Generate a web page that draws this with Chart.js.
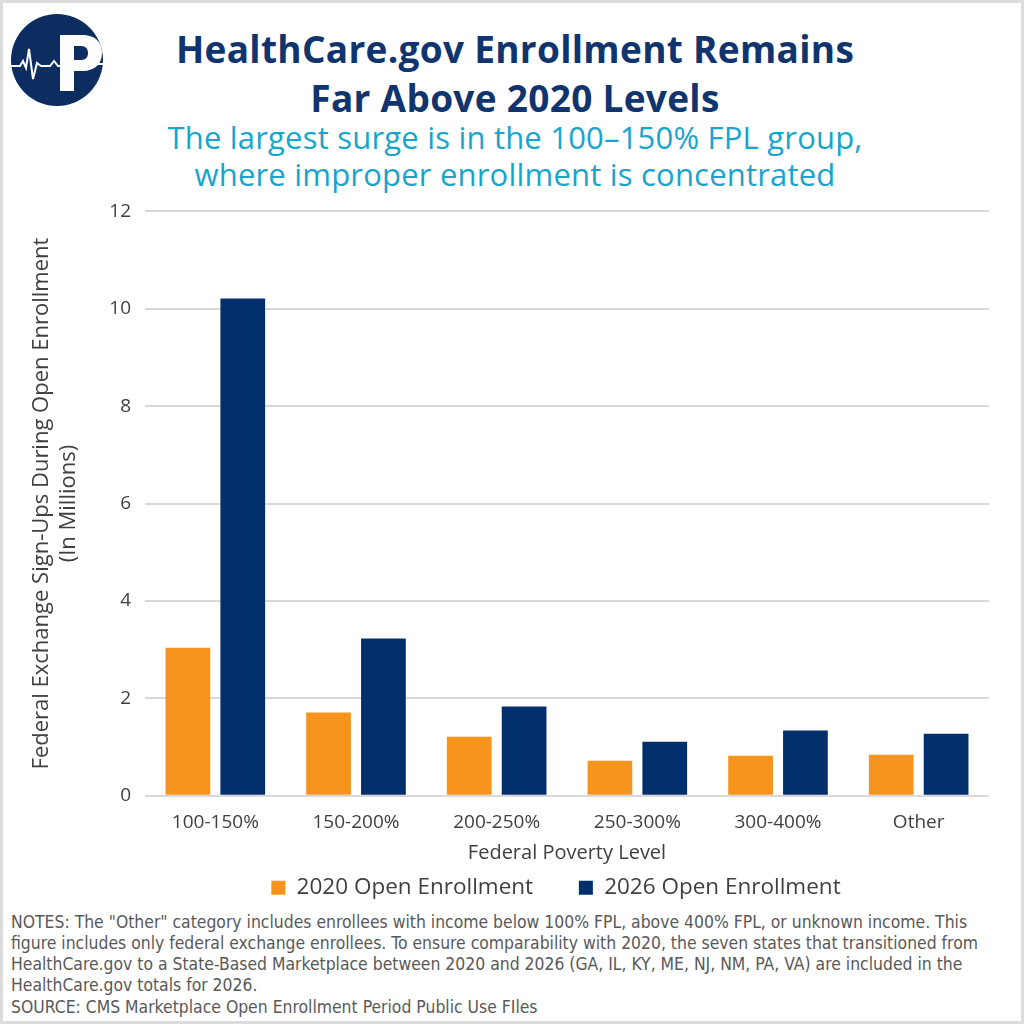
<!DOCTYPE html>
<html>
<head>
<meta charset="utf-8">
<script src="https://cdn.jsdelivr.net/npm/chart.js@4"></script>
<style>
  html, body { margin: 0; padding: 0; background: #fff; }
  #frame { position: relative; width: 1024px; height: 1024px; box-sizing: border-box; border: 3px solid #dcdcdc; background: #fff; overflow: hidden; font-family: "Open Sans", Roboto, sans-serif; }
  #logo { position: absolute; left: 5px; top: 8px; }
  .title { position: absolute; left: 0; width: 1024px; text-align: center; color: #10346e; font-weight: 700; font-size: 37px; line-height: 48px; letter-spacing: 0.3px; white-space: nowrap; }
  .sub { position: absolute; left: 0; width: 1024px; text-align: center; color: #17a5cc; font-size: 31px; line-height: 36px; letter-spacing: 0.2px; white-space: nowrap; }
  #notes { position: absolute; left: 8px; top: 909px; width: 1010px; color: #595959; font-family: "Liberation Sans Narrow", "DejaVu Sans Condensed", sans-serif; font-size: 17.4px; line-height: 21px; white-space: nowrap; }
  #chartwrap { position: absolute; left: 0; top: 183px; }
</style>
</head>
<body>
<div id="frame">
  <svg id="logo" width="100" height="100" viewBox="0 0 100 100">
    <circle cx="49" cy="49" r="46" fill="#0d2c5f"/>
    <path d="M52 24 H74 C90 24 94 34 94 42 C94 52 88 60 74 60 H66 V80 H52 Z M66 35 V49 H73 C78 49 80 46 80 42 C80 38 78 35 73 35 Z" fill="#fff" fill-rule="evenodd"/>
    <polyline points="3,55 12,55 15,50 18,57 21,38 25,68 29,52 33,55 42,55 46,50 50,55 54,55 58,53 96,53" fill="none" stroke="#fff" stroke-width="2"/>
  </svg>
  <div class="title" style="top:22px;">HealthCare.gov Enrollment Remains</div>
  <div class="title" style="top:71px;">Far Above 2020 Levels</div>
  <div class="sub" style="top:116px;">The largest surge is in the 100–150% FPL group,</div>
  <div class="sub" style="top:153px;">where improper enrollment is concentrated</div>
  <div id="chartwrap"><canvas id="c" width="1024" height="723"></canvas></div>
  <div id="notes">NOTES: The "Other" category includes enrollees with income below 100% FPL, above 400% FPL, or unknown income. This<br>figure includes only federal exchange enrollees. To ensure comparability with 2020, the seven states that transitioned from<br>HealthCare.gov to a State-Based Marketplace between 2020 and 2026 (GA, IL, KY, ME, NJ, NM, PA, VA) are included in the<br>HealthCare.gov totals for 2026.<div style="margin-top:1px;">SOURCE: CMS Marketplace Open Enrollment Period Public Use FIles</div></div>
</div>
<script>
const categories = ["100-150%", "150-200%", "200-250%", "250-300%", "300-400%", "Other"];
const enroll2020 = [3.04, 1.71, 1.21, 0.72, 0.82, 0.84];
const enroll2026 = [10.21, 3.23, 1.83, 1.11, 1.34, 1.27];
const yTicks = [0, 2, 4, 6, 8, 10, 12];
const seriesNames = ["2020 Open Enrollment", "2026 Open Enrollment"];

const txt = "#404040";
const fam = "'Open Sans', Roboto, sans-serif";

const legendShift = {
  id: "legendShift",
  afterLayout(chart) {
    const lg = chart.legend, ca = chart.chartArea;
    if (lg && ca) { lg.left = ca.left - 16; lg.right = ca.right - 6; }
  }
};

new Chart(document.getElementById("c"), {
  type: "bar",
  data: {
    labels: categories,
    datasets: [
      { label: seriesNames[0], data: enroll2020, backgroundColor: "#f7941e" },
      { label: seriesNames[1], data: enroll2026, backgroundColor: "#002f6c" }
    ]
  },
  plugins: [legendShift],
  options: {
    responsive: false,
    devicePixelRatio: 1,
    animation: false,
    categoryPercentage: 0.78,
    barPercentage: 0.815,
    layout: { padding: { left: 26, right: 38, top: 10, bottom: 0 } },
    plugins: {
      tooltip: { enabled: false },
      legend: {
        position: "bottom",
        labels: {
          boxWidth: 14, boxHeight: 14, color: txt, font: { family: fam, size: 22.5 }, padding: 12,
          generateLabels: (chart) => {
            const items = Chart.defaults.plugins.legend.labels.generateLabels(chart);
            items.forEach((it, i) => { if (i < items.length - 1) it.text = it.text + "\u2003\u2002"; });
            return items;
          }
        }
      }
    },
    scales: {
      y: {
        min: 0, max: 12,
        afterBuildTicks: (s) => { s.ticks = yTicks.map(v => ({ value: v })); },
        afterFit: (s) => { s.width = 116; },
        ticks: { color: txt, font: { family: fam, size: 19 }, padding: 14 },
        grid: { color: "#d9d9d9", lineWidth: 2, drawTicks: false },
        border: { display: false },
        title: { display: true, text: ["Federal Exchange Sign-Ups During Open Enrollment", "(In Millions)"], color: txt, font: { family: fam, size: 22 }, padding: { top: 0, bottom: 0 } }
      },
      x: {
        grid: { display: false },
        border: { display: false },
        ticks: { color: txt, font: { family: fam, size: 19 }, padding: 7 },
        title: { display: true, text: "Federal Poverty Level", color: txt, font: { family: fam, size: 20, lineHeight: 1 }, padding: { top: 3, bottom: 1 } }
      }
    }
  }
});
</script>
</body>
</html>
